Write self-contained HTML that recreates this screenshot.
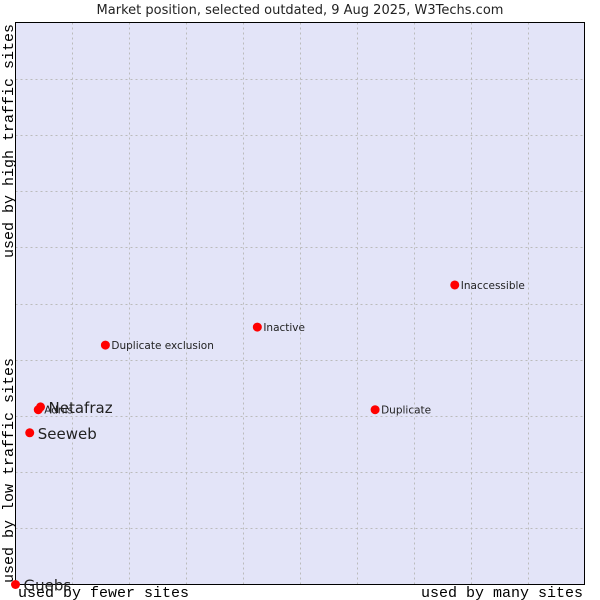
<!DOCTYPE html>
<html><head><meta charset="utf-8"><style>
html,body{margin:0;padding:0;background:#fff;width:600px;height:600px;overflow:hidden}
</style></head><body>
<svg id="chart" width="600" height="600" xmlns="http://www.w3.org/2000/svg">
<text x="300" y="14" text-anchor="middle" font-family="DejaVu Sans, sans-serif" font-size="13" fill="#222">Market position, selected outdated, 9 Aug 2025, W3Techs.com</text>
<rect x="15.5" y="22.5" width="569" height="562" fill="#e3e4f8" stroke="none"/>
<g id="grid"></g>
<rect x="15.5" y="22.5" width="569" height="562" fill="none" stroke="#000" stroke-width="1"/>
<text transform="translate(13,258) rotate(-90)" font-family="Liberation Mono, monospace" font-size="15" fill="#000">used by high traffic sites</text>
<text transform="translate(13,583) rotate(-90)" font-family="Liberation Mono, monospace" font-size="15" fill="#000">used by low traffic sites</text>
<text x="18" y="597" font-family="Liberation Mono, monospace" font-size="15" fill="#000">used by fewer sites</text>
<text x="583" y="597" text-anchor="end" font-family="Liberation Mono, monospace" font-size="15" fill="#000">used by many sites</text>
<g id="points"></g>
</svg>
<script>
const names = ["Guebs","Seeweb","Netafraz","Adnis","Duplicate exclusion","Inactive","Duplicate","Inaccessible"];
const xs = [0, 2.5, 4.4, 4.0, 15.8, 42.5, 63.2, 77.2];
const ys = [0, 27.0, 31.6, 31.1, 42.6, 45.8, 31.1, 53.3];
const sizes = ["big","big","big","small","small","small","small","small"];
const L=15.5,R=584.5,T=22.5,B=584.5;
const sx=v=>L+(R-L)*v/100, sy=v=>B-(B-T)*v/100;
const NS="http://www.w3.org/2000/svg";
const g=document.getElementById('grid');
for(let i=1;i<10;i++){
  const v=document.createElementNS(NS,'line');
  
  
  const x=Math.round(sx(i*10))+0.5;
  v.setAttribute('x1',x);v.setAttribute('x2',x);v.setAttribute('y1',T);v.setAttribute('y2',B);
  v.setAttribute('stroke','#bbbbbb');v.setAttribute('stroke-dasharray','2,3');
  g.appendChild(v);
  const h=document.createElementNS(NS,'line');
  
  
  const y=Math.round(sy(i*10))+0.5;
  h.setAttribute('x1',L);h.setAttribute('x2',R);h.setAttribute('y1',y);h.setAttribute('y2',y);
  h.setAttribute('stroke','#bbbbbb');h.setAttribute('stroke-dasharray','2,3');
  g.appendChild(h);
}
const p=document.getElementById('points');
names.forEach((n,i)=>{
  const cx=sx(xs[i]),cy=sy(ys[i]);
  const c=document.createElementNS(NS,'circle');
  
  
  c.setAttribute('cx',cx);c.setAttribute('cy',cy);c.setAttribute('r',4.5);c.setAttribute('fill','#ff0000');
  p.appendChild(c);
  const t=document.createElementNS(NS,'text');
  
  
  const big=sizes[i]==="big";
  t.setAttribute('x',cx+(big?8:6));t.setAttribute('y',cy+(big?6:4));
  t.setAttribute('font-family','DejaVu Sans, sans-serif');
  t.setAttribute('font-size',big?15:10.5);
  t.setAttribute('fill','#222');
  t.textContent=n;
  p.appendChild(t);
});
</script>
</body></html>
